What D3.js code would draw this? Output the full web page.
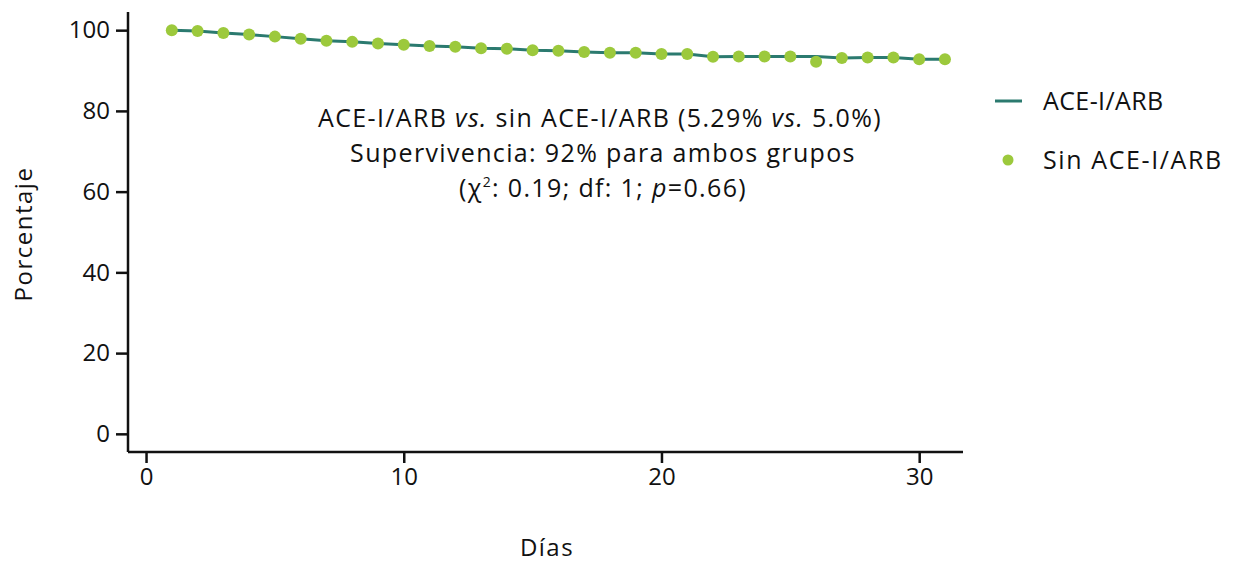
<!DOCTYPE html>
<html>
<head>
<meta charset="utf-8">
<script src="https://cdn.jsdelivr.net/npm/d3@7"></script>
<style>
  body { margin: 0; background: #fff; }
  text { font-family: "Open Sans", Lato, sans-serif; fill: #111; }
</style>
</head>
<body>
<script>
const days = d3.range(1, 32)
const aceLine = [100, 99.8, 99.3, 98.9, 98.4, 97.9, 97.4, 97.1, 96.7, 96.4, 96.1, 95.9, 95.5, 95.4, 95.0, 94.9,
  94.6, 94.4, 94.4, 94.1, 94.1, 93.4, 93.5, 93.5, 93.5, 93.5, 93.1, 93.2, 93.2, 92.8, 92.8]
const sinAce = [100, 99.8, 99.3, 98.9, 98.4, 97.9, 97.4, 97.1, 96.7, 96.4, 96.1, 95.9, 95.5, 95.4, 95.0, 94.9,
  94.6, 94.4, 94.4, 94.1, 94.1, 93.4, 93.5, 93.5, 93.5, 92.2, 93.1, 93.2, 93.2, 92.8, 92.8]
const xTicks = [0, 10, 20, 30]
const yTicks = [0, 20, 40, 60, 80, 100]
const seriesNames = ['ACE-I/ARB', 'Sin ACE-I/ARB']

const colors = { line: '#2b7a6f', dot: '#9cc93c' }
const font = '"Open Sans", Lato, sans-serif'
const fs = 24
const width = 1233, height = 564

const svg = d3.select('body').append('svg')
  .attr('width', width)
  .attr('height', height)

const x = d3.scaleLinear().domain([-0.7, 31.7]).range([128, 963])
const y = d3.scaleLinear().domain([-4.5, 104.5]).range([452, 12])

// axes
const xAxis = svg.append('g')
  .attr('transform', `translate(0, 452)`)
  .call(d3.axisBottom(x).tickValues(xTicks).tickSize(11).tickPadding(5).tickSizeOuter(0))
const yAxis = svg.append('g')
  .attr('transform', `translate(128, 0)`)
  .call(d3.axisLeft(y).tickValues(yTicks).tickSize(12).tickPadding(6).tickSizeOuter(0))

;[xAxis, yAxis].forEach(g => {
  g.select('.domain').attr('stroke', '#111').attr('stroke-width', 2.5)
  g.selectAll('.tick line').attr('stroke', '#111').attr('stroke-width', 2.5)
  g.selectAll('.tick text').attr('font-size', fs).attr('fill', '#111')
    .style('font-family', font)
})
xAxis.select('.domain').attr('d', 'M128,0H963')
yAxis.select('.domain').attr('d', 'M0,12V452')

// axis titles
svg.append('text')
  .attr('x', 547).attr('y', 556)
  .attr('text-anchor', 'middle')
  .attr('font-size', fs)
  .attr('letter-spacing', 1.5)
  .text('Días')

svg.append('text')
  .attr('transform', 'translate(32, 234) rotate(-90)')
  .attr('text-anchor', 'middle')
  .attr('font-size', fs)
  .attr('letter-spacing', 1.5)
  .text('Porcentaje')

// line
const lineGen = d3.line().x((d, i) => x(days[i])).y(d => y(d))
svg.append('path')
  .attr('d', lineGen(aceLine))
  .attr('fill', 'none')
  .attr('stroke', colors.line)
  .attr('stroke-width', 3)

// dots
svg.selectAll('circle.point')
  .data(sinAce)
  .enter()
  .append('circle')
  .attr('class', 'point')
  .attr('cx', (d, i) => x(days[i]))
  .attr('cy', d => y(d))
  .attr('r', 6)
  .attr('fill', colors.dot)

// annotation
const ann = svg.append('text')
  .attr('text-anchor', 'middle')
  .attr('font-size', 25)
  .attr('letter-spacing', 1.35)
const l1 = ann.append('tspan').attr('x', 600).attr('y', 127)
l1.append('tspan').text('ACE-I/ARB ')
l1.append('tspan').attr('font-style', 'italic').text('vs.')
l1.append('tspan').text(' sin ACE-I/ARB (5.29% ')
l1.append('tspan').attr('font-style', 'italic').text('vs.')
l1.append('tspan').text(' 5.0%)')
ann.append('tspan').attr('x', 603).attr('y', 162).text('Supervivencia: 92% para ambos grupos')
const l3 = ann.append('tspan').attr('x', 603).attr('y', 197)
l3.append('tspan').text('(χ')
l3.append('tspan').attr('font-size', 14).attr('dy', -10).text('2')
l3.append('tspan').attr('dy', 10).text(': 0.19; df: 1; ')
l3.append('tspan').attr('font-style', 'italic').text('p')
l3.append('tspan').text('=0.66)')

// legend
const legend = svg.append('g')
legend.append('line')
  .attr('x1', 995).attr('x2', 1022).attr('y1', 101).attr('y2', 101)
  .attr('stroke', colors.line).attr('stroke-width', 3)
legend.append('circle')
  .attr('cx', 1008).attr('cy', 160).attr('r', 5.5)
  .attr('fill', colors.dot)
legend.selectAll('text.leg')
  .data(seriesNames)
  .enter()
  .append('text')
  .attr('class', 'leg')
  .attr('x', 1043)
  .attr('y', (d, i) => 101 + i * 59)
  .attr('dy', '0.35em')
  .attr('font-size', 25)
  .attr('letter-spacing', (d, i) => i ? 1.6 : 0.4)
  .text(d => d)
</script>
</body>
</html>
